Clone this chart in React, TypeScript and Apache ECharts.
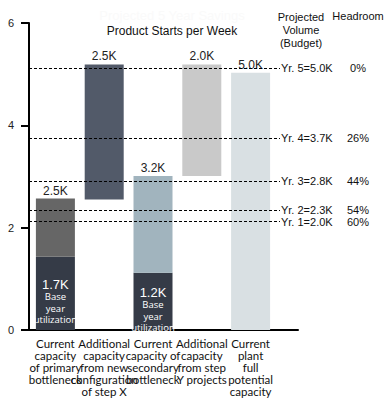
import React, { useEffect, useRef } from "react";
import * as echarts from "echarts";

const categories = [
  "Current\ncapacity\nof primary\nbottleneck",
  "Additional\ncapacity\nfrom new\nconfiguration\nof step X",
  "Current\ncapacity of\nsecondary\nbottleneck",
  "Additional\ncapacity\nfrom step\nY projects",
  "Current\nplant\nfull\npotential\ncapacity",
];
const barTops = [2.57, 5.19, 3.01, 5.19, 5.03];
const floatBottoms = [0, 2.55, 0, 3.01, 0];
const baseUtil = [1.43, 0, 1.12, 0, 0];
const topLabels = ["2.5K", "2.5K", "3.2K", "2.0K", "5.0K"];
const utilLabels = ["1.7K", "", "1.2K", "", ""];
const barColors = ["#666666", "#525a69", "#a1b4be", "#c9c9c9", "#d9e0e3"];
const utilColor = "#353b47";
const budgetNames = ["Yr. 5=5.0K", "Yr. 4=3.7K", "Yr. 3=2.8K", "Yr. 2=2.3K", "Yr. 1=2.0K"];
const budgetLevels = [5.12, 3.75, 2.91, 2.35, 2.12];
const headroom = ["0%", "26%", "44%", "54%", "60%"];

const FONT = "Liberation Sans, Arial, sans-serif";
const LABEL_FONT = "Lato, sans-serif";

export default function App() {
  const ref = useRef<HTMLDivElement>(null);
  useEffect(() => {
    document.body.style.margin = "0";
    const chart = echarts.init(ref.current!, null, { renderer: "svg" });
    const restVals = barTops.map((t, i) => +(t - floatBottoms[i] - baseUtil[i]).toFixed(3));
    const option: any = {
      animation: false,
      backgroundColor: "#ffffff",
      grid: [
        { left: 31, width: 244, top: 23, bottom: 70 },
        { left: 29, right: 90, top: 23, bottom: 70 },
      ],
      xAxis: [
        {
          type: "category",
          gridIndex: 0,
          data: categories,
          axisLine: { show: false },
          axisTick: { show: false },
          axisLabel: {
            interval: 0,
            margin: 7,
            fontFamily: LABEL_FONT,
            fontSize: 11.5,
            lineHeight: 12,
            color: "#111",
          },
        },
        {
          type: "value",
          gridIndex: 1,
          min: 0,
          max: 1,
          axisLine: { show: true, lineStyle: { color: "#000", width: 2 } },
          axisTick: { show: false },
          axisLabel: { show: false },
          splitLine: { show: false },
        },
      ],
      yAxis: [
        {
          type: "value",
          gridIndex: 0,
          min: 0,
          max: 6,
          show: false,
          splitLine: { show: false },
        },
        {
          type: "value",
          gridIndex: 1,
          min: 0,
          max: 6,
          interval: 2,
          axisLine: { show: true, lineStyle: { color: "#000", width: 2 } },
          axisTick: { show: true, length: 8, lineStyle: { color: "#000", width: 2 } },
          axisLabel: { margin: 15, fontFamily: FONT, fontSize: 11, color: "#222" },
          splitLine: { show: false },
        },
      ],
      graphic: [
        {
          type: "text",
          x: 172,
          y: 15,
          style: {
            text: "Projected 5 Year Savings",
            fontFamily: FONT,
            fontSize: 13,
            fill: "#fafafa",
            align: "center",
            verticalAlign: "middle",
          },
        },
        {
          type: "text",
          x: 172,
          y: 31,
          style: {
            text: "Product Starts per Week",
            fontFamily: FONT,
            fontSize: 12,
            fill: "#111",
            align: "center",
            verticalAlign: "middle",
          },
        },
        {
          type: "text",
          x: 301,
          y: 10,
          style: {
            text: "Projected\nVolume\n(Budget)",
            fontFamily: FONT,
            fontSize: 11,
            lineHeight: 13,
            fill: "#111",
            align: "center",
            verticalAlign: "top",
          },
        },
        {
          type: "text",
          x: 358,
          y: 16,
          style: {
            text: "Headroom",
            fontFamily: FONT,
            fontSize: 11,
            fill: "#111",
            align: "center",
            verticalAlign: "middle",
          },
        },
      ],
      series: [
        {
          type: "bar",
          name: "offset",
          xAxisIndex: 0,
          yAxisIndex: 0,
          stack: "s",
          barWidth: 39,
          data: floatBottoms,
          itemStyle: { color: "transparent" },
          silent: true,
        },
        {
          type: "bar",
          name: "util",
          xAxisIndex: 0,
          yAxisIndex: 0,
          stack: "s",
          barWidth: 39,
          data: baseUtil,
          itemStyle: { color: utilColor },
          label: {
            show: true,
            position: "inside",
            offset: [0, 8],
            formatter: (p: any) =>
              utilLabels[p.dataIndex]
                ? `{v|${utilLabels[p.dataIndex]}}\n{s|Base}\n{s|year}\n{s|utilization}`
                : "",
            rich: {
              v: { fontFamily: FONT, fontSize: 13, color: "#fff", lineHeight: 14 },
              s: { fontFamily: "Open Sans, sans-serif", fontSize: 9.5, color: "#fff", lineHeight: 11.5 },
            },
          },
        },
        {
          type: "bar",
          name: "rest",
          xAxisIndex: 0,
          yAxisIndex: 0,
          stack: "s",
          barWidth: 39,
          data: restVals.map((v, i) => ({ value: v, itemStyle: { color: barColors[i] } })),
          label: {
            show: true,
            position: "top",
            distance: 2,
            formatter: (p: any) => topLabels[p.dataIndex],
            fontFamily: FONT,
            fontSize: 12,
            color: "#222",
          },
        },
        {
          type: "line",
          name: "budget",
          xAxisIndex: 1,
          yAxisIndex: 1,
          data: [],
          z: 10,
          markLine: {
            silent: true,
            symbol: "none",
            lineStyle: { color: "#000", width: 1, type: [3, 2] },
            label: {
              show: true,
              position: "end",
              distance: 1,
              formatter: (p: any) => `{a|${budgetNames[p.dataIndex]}}{b|${headroom[p.dataIndex]}}`,
              rich: {
                a: { fontFamily: FONT, fontSize: 11, color: "#111", width: 63 },
                b: { fontFamily: FONT, fontSize: 11, color: "#111", width: 28, align: "center" },
              },
            },
            data: budgetLevels.map((v) => [{ coord: [0, v] }, { coord: [0.933, v] }]),
          },
        },
      ],
    };
    chart.setOption(option);
    return () => chart.dispose();
  }, []);
  return <div ref={ref} style={{ width: 388, height: 400 }} />;
}
